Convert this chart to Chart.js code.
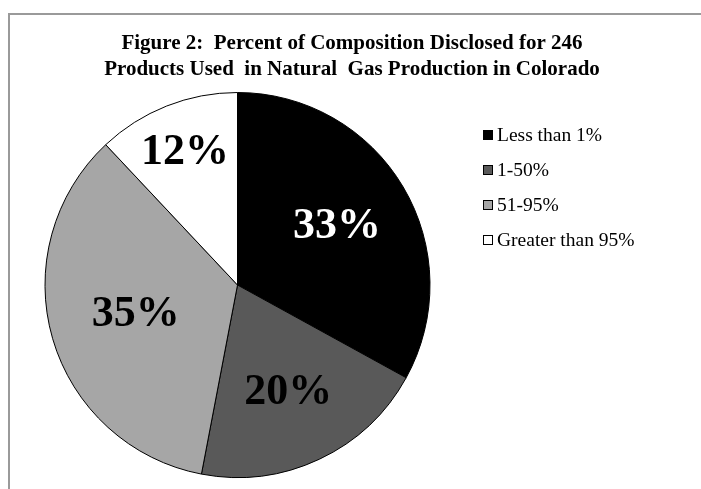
<!DOCTYPE html>
<html>
<head>
<meta charset="utf-8">
<script src="https://cdn.jsdelivr.net/npm/chart.js@4.4.0/dist/chart.umd.min.js"></script>
<style>
  body { margin: 0; background: #fff; }
  #frame { position: absolute; left: 8px; top: 13px; width: 900px; height: 700px;
           border-left: 2px solid #9a9a9a; border-top: 2px solid #9a9a9a; }
  #piechart { position: absolute; left: 0; top: 0; }
</style>
</head>
<body>
<div id="frame"></div>
<canvas id="piechart" width="701" height="489"></canvas>
<script>
const categories = ['Less than 1%', '1-50%', '51-95%', 'Greater than 95%'];
const percents = [33, 20, 35, 12];
const titleLines = ['Figure 2:  Percent of Composition Disclosed for 246',
                    'Products Used  in Natural  Gas Production in Colorado'];

const sliceColors = ['#000000', '#595959', '#a6a6a6', '#ffffff'];
const labelColors = ['#ffffff', '#000000', '#000000', '#000000'];
// how far out from the centre each % label sits (fraction of radius)
const labelRadius = [0.60, 0.62, 0.55, 0.74];

const serif = '"Liberation Serif", "Times New Roman", serif';

// draws title, legend and % labels by hand so they sit where excel put them
const extras = {
  id: 'extras',
  afterDraw(chart) {
    const ctx = chart.ctx;
    ctx.save();

    // title
    ctx.fillStyle = '#000';
    ctx.textAlign = 'center';
    ctx.textBaseline = 'middle';
    ctx.font = 'bold 21px ' + serif;
    titleLines.forEach((t, i) => ctx.fillText(t, 352, 44 + i * 26));

    // slice labels
    const meta = chart.getDatasetMeta(0);
    ctx.font = 'bold 44px ' + serif;
    meta.data.forEach((arc, i) => {
      const p = arc.getProps(['x', 'y', 'startAngle', 'endAngle', 'outerRadius'], true);
      const mid = (p.startAngle + p.endAngle) / 2;
      const r = p.outerRadius * labelRadius[i];
      ctx.fillStyle = labelColors[i];
      ctx.fillText(percents[i] + '%', p.x + Math.cos(mid) * r, p.y + Math.sin(mid) * r);
    });

    // legend
    ctx.font = '19.5px ' + serif;
    ctx.textAlign = 'left';
    categories.forEach((c, i) => {
      const y = 135 + i * 35;
      ctx.fillStyle = sliceColors[i];
      ctx.fillRect(483, y - 5, 10, 10);
      ctx.strokeStyle = '#000';
      ctx.lineWidth = 1;
      ctx.strokeRect(483.5, y - 4.5, 9, 9);
      ctx.fillStyle = '#000';
      ctx.fillText(c, 497, y + 1);
    });

    ctx.restore();
  }
};

new Chart(document.getElementById('piechart'), {
  type: 'pie',
  data: {
    labels: categories,
    datasets: [{
      data: percents,
      backgroundColor: sliceColors,
      borderColor: '#000',
      borderWidth: 1
    }]
  },
  options: {
    responsive: false,
    animation: false,
    devicePixelRatio: 1,
    layout: { padding: { left: 44, right: 270, top: 92, bottom: 11 } },
    plugins: {
      legend: { display: false },
      title: { display: false },
      tooltip: { enabled: false }
    }
  },
  plugins: [extras]
});
</script>
</body>
</html>
